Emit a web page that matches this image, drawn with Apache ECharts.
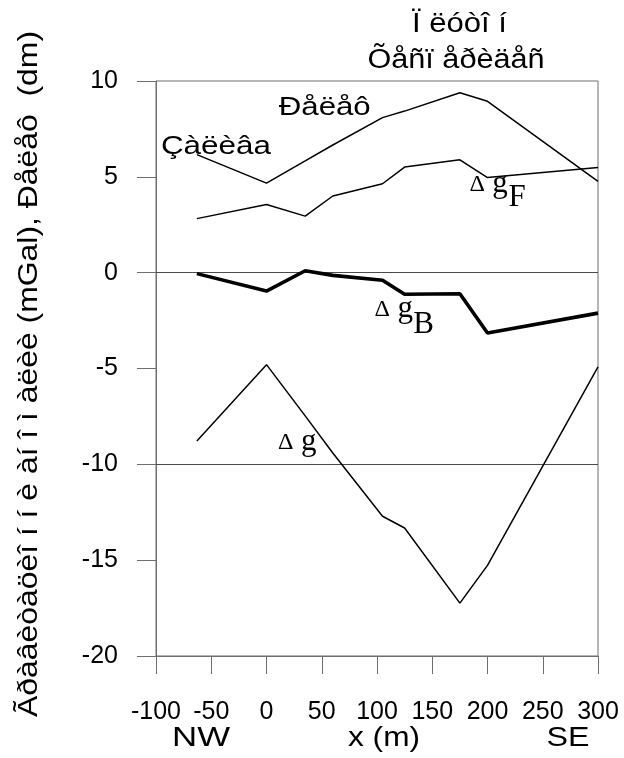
<!DOCTYPE html>
<html>
<head>
<meta charset="utf-8">
<script src="https://cdn.jsdelivr.net/npm/echarts@6/dist/echarts.min.js"></script>
<style>
html,body{margin:0;padding:0;background:#fff;}
#c{width:624px;height:758px;}
</style>
</head>
<body>
<div id="c"></div>
<script>
// ---- data ----
const xPositions = [-63, 0, 35, 60, 105, 125, 175, 200, 300];
const relief  = [6.16, 4.67, 5.83, 6.66, 8.09, 8.43, 9.39, 8.94, 4.76];   // Ðåëåô (dm)
const deltaGF = [2.82, 3.56, 2.95, 4.00, 4.64, 5.51, 5.89, 4.96, 5.49];   // Δg_F
const deltaGB = [-0.05, -0.96, 0.10, -0.14, -0.40, -1.13, -1.10, -3.15, -2.11]; // Δg_B
const deltaG  = [-8.78, -4.80, -7.47, -9.41, -12.71, -13.32, -17.24, -15.27, -4.92]; // Δg
const xTickValues = [-100, -50, 0, 50, 100, 150, 200, 250, 300];
const yTickValues = [-20, -15, -10, -5, 0, 5, 10];
const refLines = [0, -10];

const titleLines = ['Ï ëóòî í', 'Õåñï åðèäåñ'];
const yAxisTitle = 'Ãðàâèòàöèî í í è àí î ì àëèè (mGal), Ðåëåô  (dm)';
const bayLabel = 'Çàëèâa';
const reliefLabel = 'Ðåëåô';
const bottomLabels = ['NW', 'x (m)', 'SE'];

// ---- chart ----
const SANS = '"Liberation Sans", Arial, sans-serif';
const SERIF = '"Liberation Serif", "Times New Roman", serif';
const AX = '#6e6e6e';

const chart = echarts.init(document.getElementById('c'), null, {renderer: 'canvas'});
const pairs = ys => xPositions.map((x, i) => [x, ys[i]]);

function lineSeries(name, ys, width) {
  return {
    name, type: 'line', data: pairs(ys), symbol: 'none', silent: true,
    lineStyle: {color: '#000', width: width}, itemStyle: {color: '#000'},
    emphasis: {disabled: true}, z: 5
  };
}

const series = [
  lineSeries('relief', relief, 1.5),
  lineSeries('dgF', deltaGF, 1.5),
  lineSeries('dgB', deltaGB, 3.6),
  lineSeries('dg', deltaG, 1.5)
];
series[0].markLine = {
  silent: true, symbol: ['none', 'none'], label: {show: false},
  lineStyle: {color: '#4a4a4a', width: 1, type: 'solid'},
  emphasis: {disabled: true}, animation: false,
  data: refLines.map(v => ({yAxis: v}))
};

const option = {
  animation: false,
  backgroundColor: '#fff',
  grid: {left: 156, right: 26, top: 81, bottom: 102, show: true,
         borderColor: AX, borderWidth: 1, backgroundColor: 'transparent'},
  xAxis: {
    type: 'value', min: xTickValues[0], max: xTickValues[xTickValues.length - 1], interval: 50,
    axisLine: {show: true, onZero: false, lineStyle: {color: AX, width: 1}},
    axisTick: {show: true, inside: false, length: 18, lineStyle: {color: AX, width: 1}},
    axisLabel: {margin: 44, color: '#000', fontSize: 25, fontFamily: SANS},
    splitLine: {show: false}
  },
  yAxis: {
    type: 'value', min: yTickValues[0], max: yTickValues[yTickValues.length - 1], interval: 5,
    axisLine: {show: true, onZero: false, lineStyle: {color: AX, width: 1}},
    axisTick: {show: true, inside: false, length: 19, lineStyle: {color: AX, width: 1}},
    axisLabel: {margin: 38, color: '#000', fontSize: 25, fontFamily: SANS},
    splitLine: {show: false}
  },
  series
};
chart.setOption(option);

// ---- text annotations (stretched like the reference's wide type) ----
const mctx = document.createElement('canvas').getContext('2d');
function stretchFor(text, font, targetWidth) {
  mctx.font = font;
  return targetWidth / mctx.measureText(text).width;
}
const px = (x, y) => chart.convertToPixel({gridIndex: 0}, [x, y]);

function wideText(text, fontSize, cx, cy, targetWidth, rotation) {
  const font = fontSize + 'px ' + SANS;
  return {
    type: 'text', x: cx, y: cy, rotation: rotation || 0,
    scaleX: stretchFor(text, font, targetWidth), scaleY: 1,
    silent: true, z: 10,
    style: {text, font, fill: '#000', textAlign: 'center', textVerticalAlign: 'middle',
            align: 'center', verticalAlign: 'middle'}
  };
}
function serifText(text, fontSize, cx, cy) {
  return {
    type: 'text', x: cx, y: cy, silent: true, z: 10,
    style: {text, font: fontSize + 'px ' + SERIF, fill: '#000', textAlign: 'center',
            textVerticalAlign: 'middle', align: 'center', verticalAlign: 'middle'}
  };
}
function deltaLabel(ax, ay, sub, subDx, subDy) {
  const p = px(ax, ay);
  const els = [serifText('\u0394', 24, p[0], p[1]), serifText('g', 31, p[0] + 23, p[1] - 1)];
  if (sub) els.push(serifText(sub, 31, p[0] + subDx, p[1] + subDy));
  return els;
}

const bayPos = px(-45.8, 6.55);
const reliefPos = px(52.7, 8.6);

const graphics = [
  wideText(titleLines[0], 27, 459.5, 25, 95),
  wideText(titleLines[1], 27, 456, 61, 177),
  wideText(bayLabel, 26, bayPos[0], bayPos[1], 110),
  wideText(reliefLabel, 26, reliefPos[0], reliefPos[1], 92),
  wideText(bottomLabels[0], 28, 201, 738, 58),
  wideText(bottomLabels[1], 28, 384, 738, 72),
  wideText(bottomLabels[2], 28, 568, 738, 43),
  wideText(yAxisTitle, 27, 30, 374, 686, Math.PI / 2)
].concat(
  deltaLabel(190.6, 4.57, 'F', 40, 13),
  deltaLabel(104.7, -1.95, 'B', 41.5, 14.5),
  deltaLabel(17.5, -8.86, null)
);

chart.setOption({graphic: {elements: graphics}});
</script>
</body>
</html>
